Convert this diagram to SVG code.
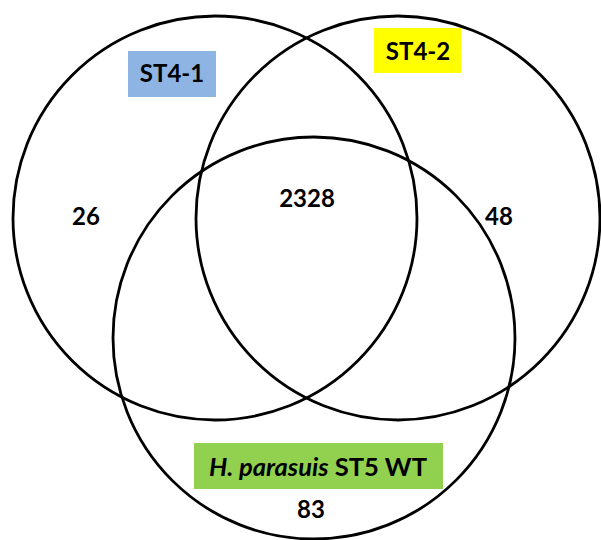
<svg xmlns="http://www.w3.org/2000/svg" width="601" height="540" viewBox="0 0 601 540">
<style>
.c{fill:none;stroke:#000;stroke-width:2.8}
.t{font-family:Lato,"Open Sans","Liberation Sans",sans-serif;font-weight:bold;font-size:24px;fill:#000;text-anchor:middle}
</style>
<rect width="601" height="540" fill="#fff"/>
<g id="connectors"></g>
<g id="set-st4-1">
<circle class="c" cx="215" cy="218" r="202"/>
<rect x="128" y="51" width="88" height="46" fill="#8EB4E3"/>
<text class="t" x="172" y="82">ST4-1</text>
</g>
<g id="set-st4-2">
<circle class="c" cx="398" cy="218" r="202"/>
<rect x="374" y="28" width="87" height="45" fill="#FFFF00"/>
<text class="t" x="418" y="60">ST4-2</text>
</g>
<g id="set-st5">
<circle class="c" cx="314" cy="338" r="201"/>
<rect x="194" y="443" width="249" height="46" fill="#92D050"/>
<text class="t" x="318" y="476" style="font-size:25.5px"><tspan font-style="italic">H. parasuis</tspan> ST5 WT</text>
</g>
<g id="counts">
<text class="t" x="86" y="225">26</text>
<text class="t" x="307" y="207">2328</text>
<text class="t" x="499" y="225">48</text>
<text class="t" x="311" y="518">83</text>
</g>
</svg>
